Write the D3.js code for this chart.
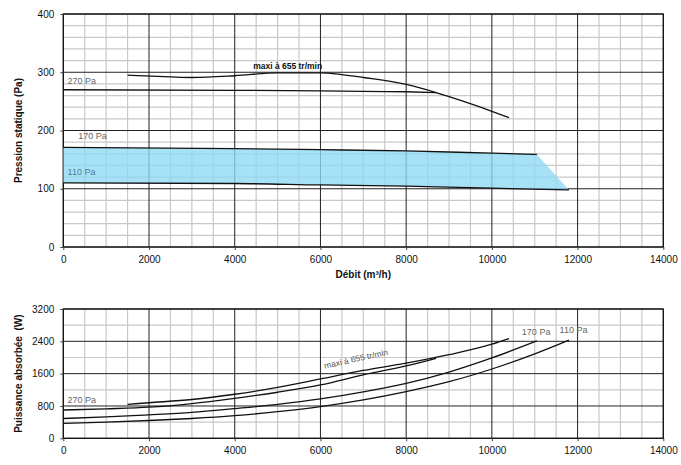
<!DOCTYPE html>
<html><head><meta charset="utf-8">
<script src="https://cdn.jsdelivr.net/npm/d3@7"></script>
<style>body{margin:0;background:#fff}svg{display:block;font-family:"Liberation Sans",Arial,sans-serif}</style>
</head><body><svg id="c" width="681" height="465"></svg>
<script>
// ---- data ----
const xTicks = [0,2000,4000,6000,8000,10000,12000,14000];
const pTicks = [0,100,200,300,400];
const wTicks = [0,800,1600,2400,3200];
// Pression statique (Pa)
const pMaxi = [[1500,295],[2500,292],[3000,291],[4000,294],[5000,299],[6000,299],[6500,296],[7000,291],[8000,279],[8700,265],[9000,258],[10000,233],[10400,222]];
const p270 = [[0,270],[4000,269],[6000,268],[8000,266.5],[8700,265]];
const p170 = [[0,171],[4000,169],[6000,167],[8000,165],[10000,161],[11050,159]];
const p110 = [[0,110],[4000,109],[6000,106.5],[8000,104.5],[10000,101],[11800,98]];
// Puissance absorbée (W)
const wMaxi = [[1500,840],[2000,880],[3000,960],[4000,1090],[5000,1260],[6000,1470],[7000,1680],[8000,1860],[9000,2070],[10000,2330],[10400,2470]];
const w270 = [[0,700],[1000,730],[2000,770],[3000,860],[4000,990],[5000,1140],[6000,1320],[7000,1570],[8000,1790],[8700,1980]];
const w170 = [[0,490],[1000,530],[2000,580],[3000,640],[4000,735],[5000,840],[6000,975],[7000,1150],[8000,1360],[9000,1640],[10000,1990],[11050,2410]];
const w110 = [[0,370],[1000,400],[2000,440],[3000,490],[4000,560],[5000,660],[6000,785],[7000,950],[8000,1155],[9000,1400],[10000,1715],[11000,2090],[11800,2430]];

const svg = d3.select("#c");
const x = d3.scaleLinear().domain([0,14000]).range([63.3,663.3]);
const yP = d3.scaleLinear().domain([0,400]).range([247,14]);
const yW = d3.scaleLinear().domain([0,3200]).range([438.3,309]);

function grid(g, y, yMax, yMinor, yMajor) {
  const xs = d3.range(0,14001,500), ys = d3.range(0,yMax+1,yMinor);
  g.selectAll(".vm").data(xs.filter(v=>v%2000)).join("line")
    .attr("x1",d=>x(d)).attr("x2",d=>x(d)).attr("y1",y(0)).attr("y2",y(yMax))
    .attr("stroke","#c8c8c8").attr("stroke-width",1.2);
  g.selectAll(".hm").data(ys.filter(v=>v%yMajor)).join("line")
    .attr("x1",x(0)).attr("x2",x(14000)).attr("y1",d=>y(d)).attr("y2",d=>y(d))
    .attr("stroke","#c8c8c8").attr("stroke-width",1.2);
  g.selectAll(".vM").data(xs.filter(v=>v%2000===0)).join("line")
    .attr("x1",d=>x(d)).attr("x2",d=>x(d)).attr("y1",y(0)).attr("y2",y(yMax))
    .attr("stroke","#222").attr("stroke-width",1);
  g.selectAll(".hM").data(ys.filter(v=>v%yMajor===0)).join("line")
    .attr("x1",x(0)).attr("x2",x(14000)).attr("y1",d=>y(d)).attr("y2",d=>y(d))
    .attr("stroke","#222").attr("stroke-width",1);
  g.append("rect").attr("x",x(0)).attr("y",y(yMax)).attr("width",x(14000)-x(0)).attr("height",y(0)-y(yMax))
    .attr("fill","none").attr("stroke","#111").attr("stroke-width",1.2);
}
function axes(y, yt) {
  const ax = svg.append("g").attr("transform",`translate(0,${y(0)})`)
    .call(d3.axisBottom(x).tickValues(xTicks).tickSize(3).tickPadding(6).tickFormat(d3.format("d")));
  const ay = svg.append("g").attr("transform",`translate(${x(0)},0)`)
    .call(d3.axisLeft(y).tickValues(yt).tickSize(3).tickPadding(6).tickFormat(d3.format("d")));
  [ax,ay].forEach(a=>{a.select(".domain").remove();
    a.selectAll("text").attr("font-size",10).attr("fill","#111").attr("font-family","Liberation Sans, Arial");
    a.selectAll("line").attr("stroke","#444");});
}

// ---- top chart ----
const gt = svg.append("g");
grid(gt, yP, 400, 20, 100);
const lineP = d3.line().x(d=>x(d[0])).y(d=>yP(d[1])).curve(d3.curveMonotoneX);
// band between 170 Pa and 110 Pa curves
const bandPts = p170.concat(p110.slice().reverse());
gt.append("path")
  .attr("d", "M" + bandPts.map(d=>[x(d[0]),yP(d[1])].join(",")).join("L") + "Z")
  .attr("fill","#8ed8f4").attr("fill-opacity",0.78);
[pMaxi,p270,p170,p110].forEach(s=>gt.append("path").attr("d",lineP(s)).attr("fill","none")
  .attr("stroke","#111").attr("stroke-width",1.3));
axes(yP, pTicks);

// ---- bottom chart ----
const gb = svg.append("g");
grid(gb, yW, 3200, 400, 800);
const lineW = d3.line().x(d=>x(d[0])).y(d=>yW(d[1])).curve(d3.curveMonotoneX);
[wMaxi,w270,w170,w110].forEach(s=>gb.append("path").attr("d",lineW(s)).attr("fill","none")
  .attr("stroke","#111").attr("stroke-width",1.3));
axes(yW, wTicks);

// ---- labels ----
function lab(t, px, py, opts={}) {
  const el = svg.append("text").attr("x",px).attr("y",py).text(t)
    .attr("font-size",opts.size||9).attr("fill",opts.fill||"#666")
    .attr("font-weight",opts.bold?"bold":"normal");
  if (opts.rot) el.attr("transform",`rotate(${opts.rot},${px},${py})`);
  if (opts.anchor) el.attr("text-anchor",opts.anchor);
  return el;
}
lab("270 Pa", x(100), yP(279));
lab("170 Pa", x(350), yP(186));
lab("110 Pa", x(100), yP(124), {fill:"#4a7f95"});
lab("maxi à 655 tr/min", x(4430), yP(305), {fill:"#111", bold:true, size:8.5});
lab("270 Pa", x(100), yW(880));
lab("maxi à 655 tr/min", x(6100), yW(1720), {rot:-12.5, size:8.5, fill:"#555"});
lab("170 Pa", x(10700), yW(2560));
lab("110 Pa", x(11580), yW(2600));

// axis titles
svg.append("text").attr("x",x(7000)).attr("y",278).attr("text-anchor","middle")
  .attr("font-size",10).attr("font-weight","bold").attr("fill","#111").text("Débit (m³/h)");
svg.append("text").attr("transform",`translate(22,${(yP(0)+yP(400))/2}) rotate(-90)`).attr("text-anchor","middle")
  .attr("font-size",10).attr("font-weight","bold").attr("fill","#111").text("Pression statique (Pa)");
svg.append("text").attr("transform",`translate(22,${(yW(0)+yW(3200))/2}) rotate(-90)`).attr("text-anchor","middle")
  .attr("font-size",10).attr("font-weight","bold").attr("fill","#111").attr("xml:space","preserve").text("Puissance absorbée  (W)");
</script></body></html>
